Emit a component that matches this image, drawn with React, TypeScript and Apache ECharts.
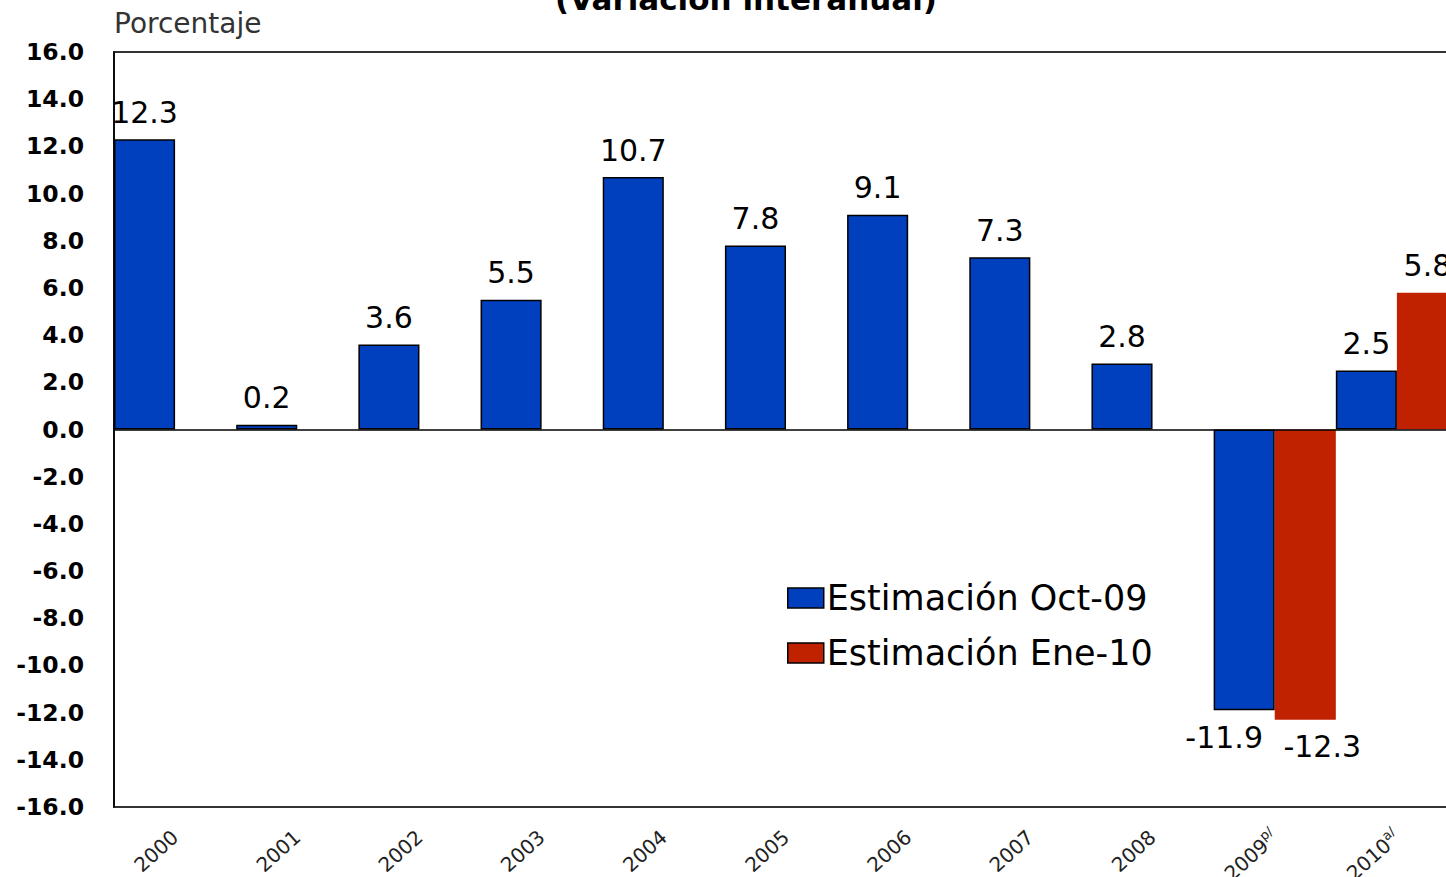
import React, { useEffect, useRef } from "react";
import * as echarts from "echarts";

const categories = ["2000", "2001", "2002", "2003", "2004", "2005", "2006", "2007", "2008", "2009", "2010"];
const categoryNotes = ["", "", "", "", "", "", "", "", "", "p/", "a/"];
const seriesNames = ["Estimación Oct-09", "Estimación Ene-10"];
const estimacionOct09 = [12.3, 0.2, 3.6, 5.5, 10.7, 7.8, 9.1, 7.3, 2.8, -11.9, 2.5];
const estimacionEne10: (number | null)[] = [null, null, null, null, null, null, null, null, null, -12.3, 5.8];
const titleText = "(Variación interanual)";
const yAxisName = "Porcentaje";

const BLUE = "#0040BE";
const RED = "#C02200";
const FONT = "DejaVu Sans";

// horizontal nudge of negative labels so side-by-side labels don't collide
function toData(values: (number | null)[], negShift: number) {
  return values.map((v) =>
    v == null
      ? null
      : {
          value: v,
          label: { position: v < 0 ? "bottom" : "top", offset: [v < 0 ? negShift : 0, 0] },
        }
  );
}

export default function App() {
  const ref = useRef<HTMLDivElement>(null);
  useEffect(() => {
    if (!ref.current) return;
    const chart = echarts.init(ref.current, undefined, { renderer: "svg" });
    const labelStyle = {
      show: true,
      fontFamily: FONT,
      fontSize: 30,
      color: "#000",
      distance: 12,
      formatter: (p: any) => Number(p.value).toFixed(1),
    };
    chart.setOption({
      animation: false,
      backgroundColor: "#fff",
      textStyle: { fontFamily: FONT },
      graphic: [
        {
          type: "text",
          left: 114,
          top: 9,
          style: { text: yAxisName, fontFamily: FONT, fontSize: 28, fill: "#333" },
        },
        {
          type: "text",
          x: 746,
          y: -1,
          style: {
            text: titleText,
            fontFamily: FONT,
            fontWeight: "bold",
            fontSize: 31,
            fill: "#000",
            align: "center",
            verticalAlign: "middle",
          },
        },
      ],
      legend: {
        orient: "vertical",
        left: 787,
        top: 580,
        padding: 0,
        itemWidth: 36,
        itemHeight: 20,
        itemGap: 19,
        icon: "rect",
        itemStyle: { borderColor: "#000", borderWidth: 1.5 },
        textStyle: { fontFamily: FONT, fontSize: 35, color: "#000", lineHeight: 36, padding: [0, 0, 0, -2] },
        data: seriesNames,
      },
      grid: {
        left: 114,
        top: 52,
        bottom: 70,
        right: 42,
        outerBoundsMode: "none",
        containLabel: false,
        show: true,
        borderColor: "#333",
        borderWidth: 2,
        backgroundColor: "transparent",
      },
      xAxis: {
        type: "category",
        data: categories,
        axisLine: { show: false, onZero: false },
        axisTick: { show: false },
        splitLine: { show: false },
        axisLabel: {
          rotate: 42,
          margin: 27,
          interval: 0,
          fontFamily: FONT,
          fontSize: 20,
          color: "#222",
          formatter: (v: string, i: number) =>
            categoryNotes[i] ? `${v}{sup|${categoryNotes[i]}}` : v,
          rich: {
            sup: { fontFamily: FONT, fontSize: 13, color: "#222", padding: [0, 0, 12, 0] },
          },
        },
      },
      yAxis: {
        type: "value",
        min: -16,
        max: 16,
        interval: 2,
        axisLine: { show: true, lineStyle: { color: "#000", width: 1.5 } },
        axisTick: { show: false },
        splitLine: { show: false },
        axisLabel: {
          margin: 30,
          fontFamily: FONT,
          fontWeight: "bold",
          fontSize: 23.5,
          color: "#000",
          formatter: (v: number) => v.toFixed(1),
        },
      },
      series: [
        {
          name: seriesNames[0],
          type: "bar",
          data: toData(estimacionOct09, -20),
          barGap: "0%",
          barCategoryGap: "0%",
          itemStyle: { color: BLUE, borderColor: "#000", borderWidth: 1.5 },
          label: labelStyle,
          markLine: {
            silent: true,
            symbol: "none",
            label: { show: false },
            lineStyle: { color: "#000", width: 1.5, type: "solid" },
            data: [{ yAxis: 0 }],
          },
        },
        {
          name: seriesNames[1],
          type: "bar",
          data: toData(estimacionEne10, 17),
          barGap: "0%",
          barCategoryGap: "0%",
          itemStyle: { color: RED },
          label: labelStyle,
        },
      ],
    });
    return () => chart.dispose();
  }, []);
  return (
    <div
      style={{
        position: "fixed",
        left: 0,
        top: 0,
        width: 1446,
        height: 877,
        overflow: "hidden",
        background: "#fff",
      }}
    >
      <div ref={ref} style={{ width: 1500, height: 877 }} />
    </div>
  );
}
